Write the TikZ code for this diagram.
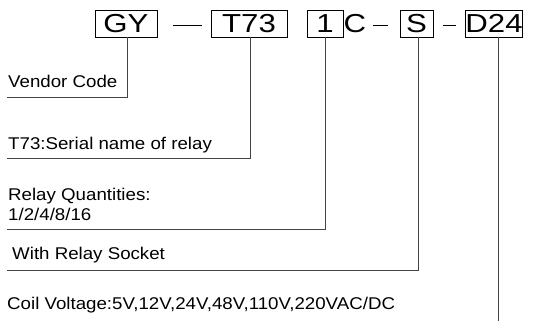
\documentclass[tikz,border=0pt]{standalone}
\usepackage{fontspec}
\setmainfont{Liberation Sans}
\newfontfamily\codefont[FakeStretch=1.2]{Liberation Sans}
\newfontfamily\notefont[FakeStretch=1.1]{Liberation Sans}
\definecolor{leadgray}{HTML}{444444}

\begin{document}
\begin{tikzpicture}[x=1pt, y=-1pt,
  codebox/.style={draw, line width=0.9pt, minimum height=27pt, inner sep=0pt, font=\codefont\fontsize{26}{28}\selectfont},
  note/.style={anchor=base west, inner sep=0pt, font=\notefont\fontsize{17}{19}\selectfont},
  lead/.style={leadgray, line width=1pt}]
  \useasboundingbox (0,0) rectangle (549,322);

  % Code boxes
  \node[codebox, minimum width=62pt] (gy) at (126,23.5) {GY};
  \node[codebox, minimum width=76pt] (t73) at (249,23.5) {T73};
  \node[codebox, minimum width=36pt] (qty) at (325,23.5) {1};
  \node[codebox, draw=none, minimum width=18pt] (c) at (355,23.5) {C};
  \node[codebox, minimum width=33pt] (s) at (416.5,23.5) {S};
  \node[codebox, minimum width=54pt] (d24) at (494,23.5) {D24};

  % Dashes
  \draw[line width=0.9pt] ([xshift=16pt]gy.east |- 0,25) -- ([xshift=-9pt]t73.west |- 0,25);
  \draw[line width=0.9pt] ([xshift=18pt]c.center |- 0,25) -- ([xshift=33pt]c.center |- 0,25);
  \draw[line width=0.9pt] ([xshift=10pt]s.east |- 0,25) -- ([xshift=-9pt]d24.west |- 0,25);

  % Notes
  \node[note] (vendor) at (8,87) {Vendor Code};
  \node[note] (serial) at (8,149) {T73:Serial name of relay};
  \node[note] (quant) at (8,200) {Relay Quantities:};
  \node[note] (quantlist) at (8,220.5) {1/2/4/8/16};
  \node[note] (socket) at (12,259) {With Relay Socket};
  \node[note] (coil) at (7,309) {Coil Voltage:5V,12V,24V,48V,110V,220VAC/DC};

  % Leader ends
  \coordinate (vendorEnd) at (7,97);
  \coordinate (serialEnd) at (7,158);
  \coordinate (quantEnd) at (7,229);
  \coordinate (socketEnd) at (7,270);
  \coordinate (coilEnd) at (498,321);

  % Leaders
  \draw[lead] ([xshift=1pt]gy.south) |- (vendorEnd);
  \draw[lead] ([xshift=1pt]t73.south) |- (serialEnd);
  \draw[lead] (qty.south) |- (quantEnd);
  \draw[lead] ([xshift=1.5pt]s.south) |- (socketEnd);
  \draw[lead] ([xshift=4pt]d24.south) -- (coilEnd);
\end{tikzpicture}
\end{document}
